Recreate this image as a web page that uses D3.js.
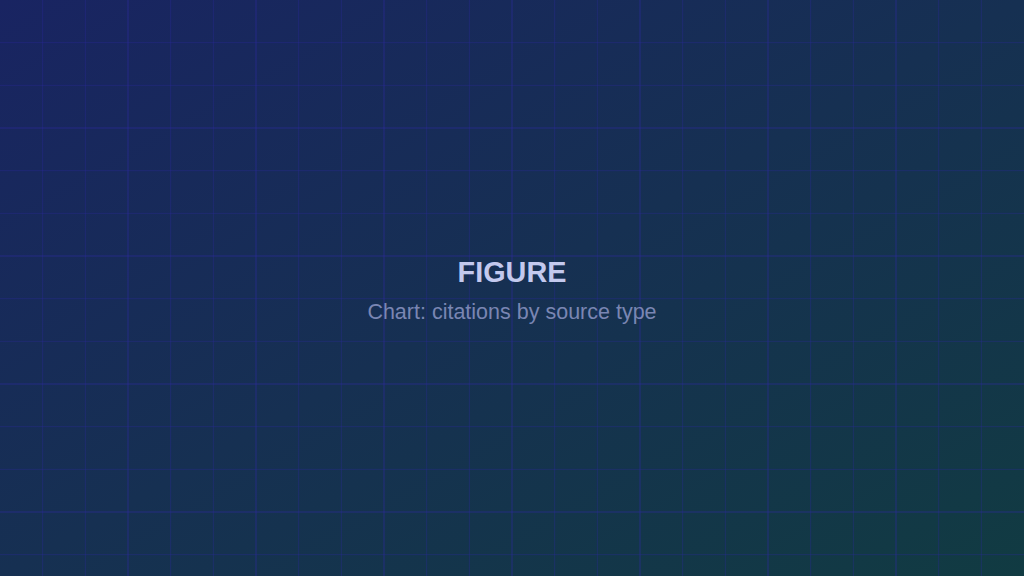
<!DOCTYPE html>
<html lang="en">
<head>
<meta charset="utf-8">
<title>Figure placeholder</title>
<script src="https://cdn.jsdelivr.net/npm/d3@7"></script>
<style>
  html, body { margin: 0; padding: 0; background: #16245e; }
  svg { display: block; }
</style>
</head>
<body>
<script>
// text shown on the card
var titleText = "FIGURE";
var subtitleText = "Chart: citations by source type";

// grid: 24 columns across the width, every 3rd line a bit stronger
var gridCols = 24;
var majorEvery = 3;

// gradient stops (top-left -> bottom-right)
var gradStops = ["#192462", "#163052", "#113b42"];

var w = 1024, h = 576;
var cell = w / gridCols;

var svg = d3.select("body").append("svg")
    .attr("width", w)
    .attr("height", h);

var defs = svg.append("defs");
var grad = defs.append("linearGradient")
    .attr("id", "bg")
    .attr("x1", "0%").attr("y1", "0%")
    .attr("x2", "100%").attr("y2", "100%");
grad.selectAll("stop")
    .data(gradStops)
    .enter()
    .append("stop")
    .attr("offset", function(d, i) { return i / (gradStops.length - 1); })
    .attr("stop-color", function(d) { return d; });

svg.append("rect")
    .attr("width", w)
    .attr("height", h)
    .attr("fill", "url(#bg)");

// scales for the grid lines
var xScale = d3.scaleLinear().domain([0, gridCols]).range([0, w]);
var yScale = d3.scaleLinear().domain([0, h / cell]).range([0, h]);

var xs = d3.range(1, gridCols);
var ys = d3.range(1, Math.floor(h / cell) + 1);

var grid = svg.append("g");

// major lines (every 3rd) a touch brighter
function lineOpacity(d) { return d % majorEvery === 0 ? 0.62 : 0.36; }

grid.selectAll("line.v")
    .data(xs)
    .enter()
    .append("line")
    .attr("class", "v")
    .attr("x1", function(d) { return xScale(d); })
    .attr("x2", function(d) { return xScale(d); })
    .attr("y1", 0)
    .attr("y2", h)
    .attr("stroke", "#2d2a9e")
    .attr("stroke-opacity", lineOpacity)
    .attr("stroke-width", 1);

grid.selectAll("line.h")
    .data(ys)
    .enter()
    .append("line")
    .attr("class", "h")
    .attr("y1", function(d) { return yScale(d); })
    .attr("y2", function(d) { return yScale(d); })
    .attr("x1", 0)
    .attr("x2", w)
    .attr("stroke", "#2d2a9e")
    .attr("stroke-opacity", lineOpacity)
    .attr("stroke-width", 1);

// title + subtitle
svg.append("text")
    .attr("x", w / 2)
    .attr("y", 282)
    .attr("text-anchor", "middle")
    .attr("font-family", "Liberation Sans, Arial, sans-serif")
    .attr("font-weight", "bold")
    .attr("font-size", "28.8px")
    .attr("fill", "#c3c9ee")
    .text(titleText);

svg.append("text")
    .attr("x", w / 2)
    .attr("y", 319)
    .attr("text-anchor", "middle")
    .attr("font-family", "Liberation Sans, Arial, sans-serif")
    .attr("font-size", "21.5px")
    .attr("fill", "#7a86b3")
    .text(subtitleText);
</script>
</body>
</html>
